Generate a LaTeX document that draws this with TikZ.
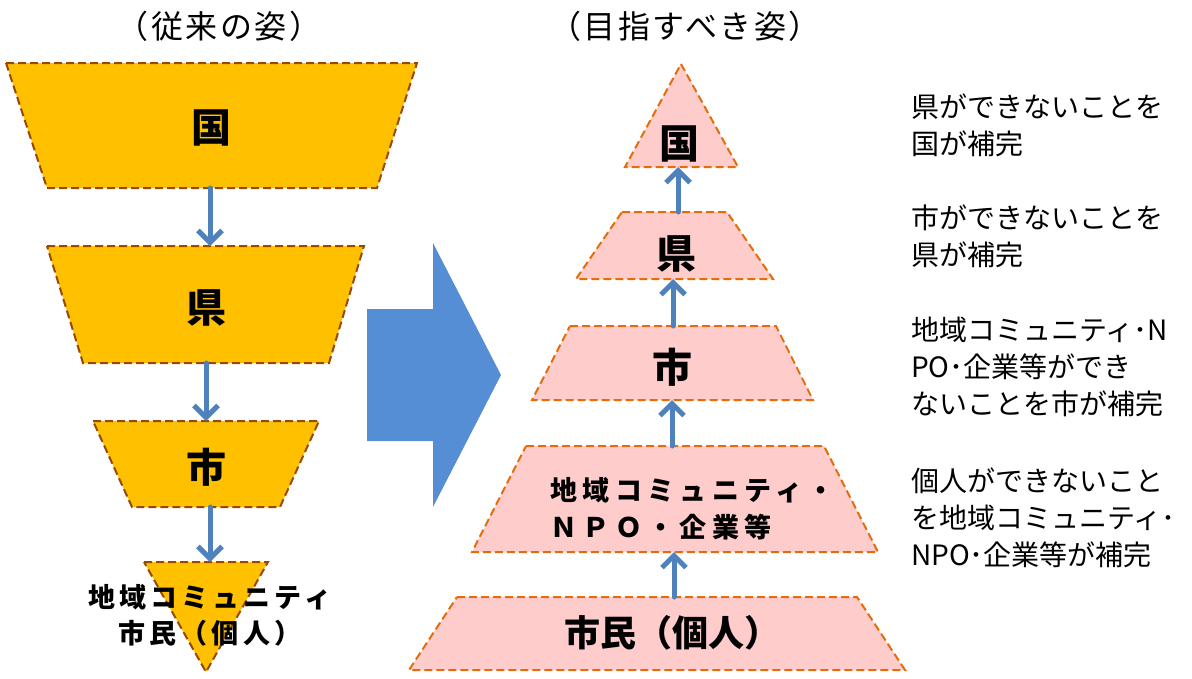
\documentclass[tikz,border=0pt]{standalone}
\usepackage{fontspec}
\setmainfont{Noto Sans CJK JP}
\newfontfamily\jp{Noto Sans CJK JP}
\usetikzlibrary{arrows.meta}
\definecolor{lfill}{HTML}{FFC000}
\definecolor{ldraw}{HTML}{984807}
\definecolor{rfill}{HTML}{FFCCCC}
\definecolor{rdraw}{HTML}{E46C0A}
\definecolor{arrowblue}{HTML}{4F81BD}
\definecolor{bigblue}{HTML}{558ED5}
\tikzset{
  oldshape/.style={fill=lfill, draw=ldraw, line width=2pt, dash pattern=on 8pt off 4pt},
  newshape/.style={fill=rfill, draw=rdraw, line width=2pt, dash pattern=on 8pt off 4pt},
  flow/.style={draw=arrowblue, line width=5pt, -{Straight Barb[length=12pt,width=24pt]}, line cap=round, line join=round},
  lbl/.style={inner sep=0pt, font=\jp\bfseries\fontsize{36}{42}\selectfont},
  big/.style={inner sep=0pt, font=\jp\bfseries\fontsize{40}{46}\selectfont},
  spaced/.style={inner sep=0pt, font=\jp\bfseries\fontsize{27}{32}\selectfont\addfontfeature{LetterSpace=15}},
  wide/.style={inner sep=0pt, anchor=west, font=\jp\bfseries\fontsize{27}{32}\selectfont\addfontfeature{LetterSpace=20}},
  note/.style={inner sep=0pt, anchor=north west, align=left, font=\jp\fontsize{28}{37}\selectfont},
  head/.style={inner sep=0pt, font=\jp\fontsize{32}{36}\selectfont\addfontfeature{LetterSpace=8}}
}
\begin{document}
\begin{tikzpicture}[x=1pt,y=-1pt]
\useasboundingbox (0,0) rectangle (1192,678);
% headers
\node[head] (h1) at (219,26) {（従来の姿）};
\node[head] (h2) at (685,26) {（目指すべき姿）};
% left: traditional
\path[oldshape] (6,63) -- (417,63) -- (377,188) -- (47,188) -- cycle;
\path[oldshape] (47,246) -- (364,246) -- (329,363) -- (83,363) -- cycle;
\path[oldshape] (93,421) -- (319,421) -- (280,507) -- (132,507) -- cycle;
\path[oldshape] (144,562) -- (268,562) -- (206,672) -- cycle;
\node[big] (lkuni) at (211,128) {国};
\node[big] (lken) at (206,308) {県};
\node[big] (lshi) at (206,467) {市};
\node[spaced] (lcom) at (210,597) {地域コミュニティ};
\node[spaced] (lshimin) at (210,633) {市民（個人）};
\coordinate (l1b) at (210,188); \coordinate (l2t) at (210,246);
\coordinate (l2b) at (206,363); \coordinate (l3t) at (206,421);
\coordinate (l3b) at (210,507); \coordinate (l4t) at (210,562);
\draw[flow] (l1b) -- (l2t);
\draw[flow] (l2b) -- (l3t);
\draw[flow] (l3b) -- (l4t);
% big arrow
\fill[bigblue] (367,309) -- (433,309) -- (433,243) -- (501,375) -- (433,507) -- (433,441) -- (367,441) -- cycle;
% right: target
\path[newshape] (681,64) -- (738,167) -- (625,167) -- cycle;
\path[newshape] (622,212) -- (727,212) -- (773,279) -- (576,279) -- cycle;
\path[newshape] (570,326) -- (776,326) -- (813,400) -- (532,400) -- cycle;
\path[newshape] (526,446) -- (824,446) -- (878,552) -- (472,552) -- cycle;
\path[newshape] (457,597) -- (857,597) -- (905,670) -- (409,670) -- cycle;
\node[big] (rkuni) at (679,144) {国};
\node[big] (rken) at (676,254) {県};
\node[big] (rshi) at (672,367) {市};
\node[wide] (rcom1) at (550,490) {地域コミュニティ・};
\node[wide] (rcom2) at (550,527) {ＮＰＯ・企業等};
\node[lbl] (rshimin) at (672,633) {市民（個人）};
\coordinate (r1b) at (678,167); \coordinate (r2t) at (678,212);
\coordinate (r2b) at (673,279); \coordinate (r3t) at (673,326);
\coordinate (r3b) at (672,400); \coordinate (r4t) at (672,446);
\coordinate (r4b) at (674,552); \coordinate (r5t) at (674,597);
\draw[flow] (r2t) -- (r1b);
\draw[flow] (r3t) -- (r2b);
\draw[flow] (r4t) -- (r3b);
\draw[flow] (r5t) -- (r4b);
% notes
\node[note] (n1) at (911,94) {県ができないことを\\国が補完};
\node[note] (n2) at (911,205) {市ができないことを\\県が補完};
\node[note] (n3) at (911,317) {地域コミュニティ･N\\PO･企業等ができ\\ないことを市が補完};
\node[note] (n4) at (911,468) {個人ができないこと\\を地域コミュニティ･\\NPO･企業等が補完};
\end{tikzpicture}
\end{document}
